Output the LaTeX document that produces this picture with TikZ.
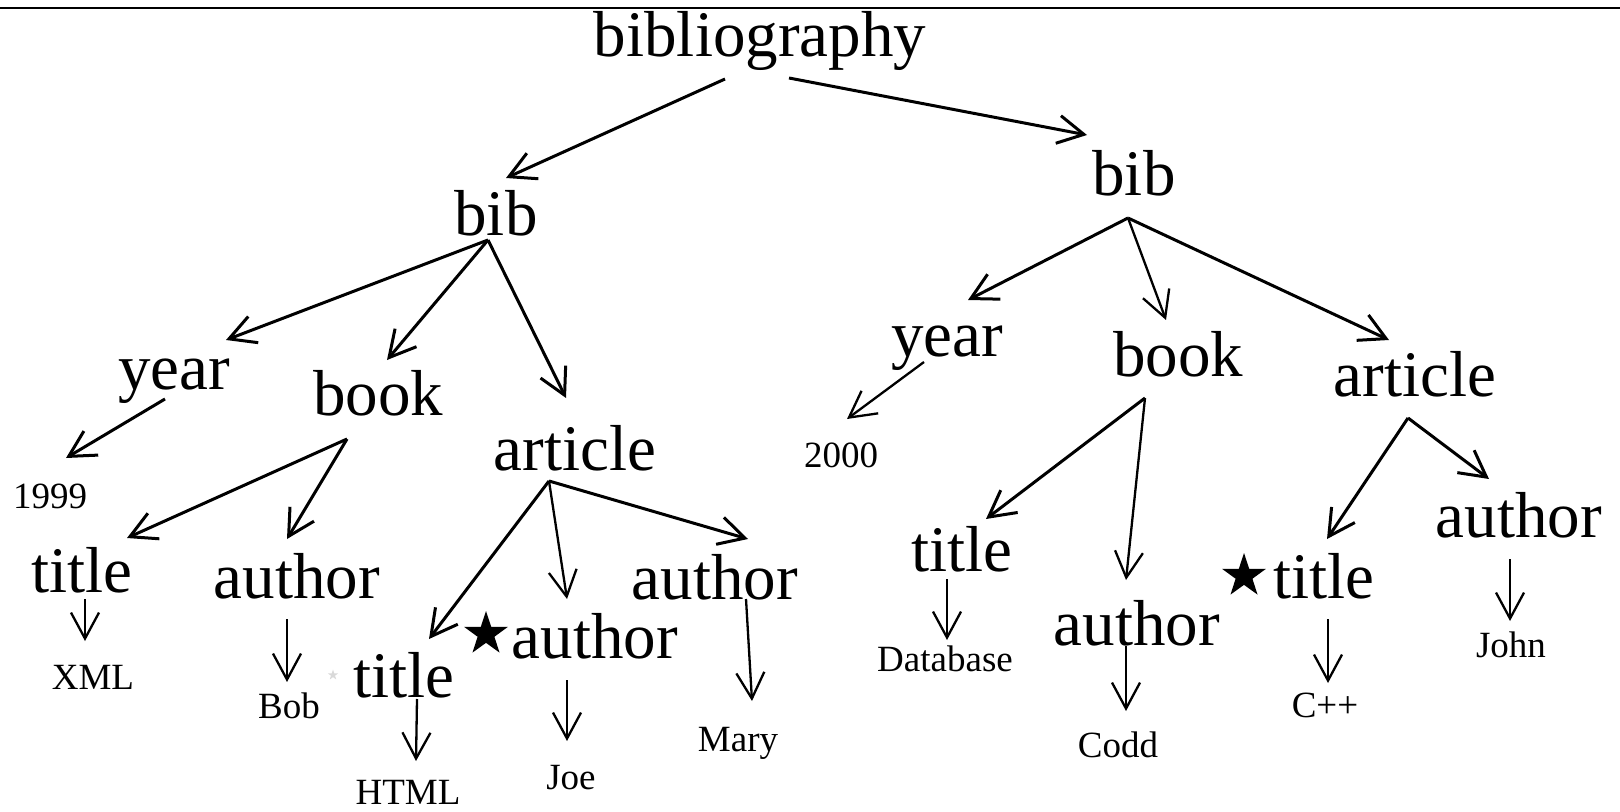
\documentclass[tikz,border=0pt]{standalone}
\usepackage{fontspec}
\setmainfont{Liberation Serif}
\usetikzlibrary{arrows.meta,shapes.geometric}
\begin{document}
\begin{tikzpicture}[x=0.5pt,y=-0.5pt,
  big/.style={font=\fontsize{32.5}{36}\selectfont, inner sep=0pt, anchor=base},
  small/.style={font=\fontsize{18.5}{21}\selectfont, inner sep=0pt, anchor=base},
  arr/.style={-{Straight Barb[length=13pt,width=14pt]}, line width=1.5pt},
  arrthin/.style={arr, line width=1.15pt},
  starnode/.style={star, star points=5, star point ratio=2.6, fill=black, draw=none, inner sep=0pt, minimum size=23pt}]
\useasboundingbox (0,0) rectangle (1620,812);
\draw[line width=0.8pt] (0,8) -- (1620,8);

% nodes
\node[big] (bibliography) at (760,57) {bibliography};
\node[big] (bibL) at (496,236) {bib};
\node[big] (bibR) at (1134,196) {bib};
\node[big] (yearL) at (174,389) {year};
\node[big] (bookL) at (378,415) {book};
\node[big] (articleL) at (575,470) {article};
\node[small] (n1999) at (50,508) {1999};
\node[big] (titleLa) at (82,592) {title};
\node[big] (authorLa) at (297,598) {author};
\node[small] (XML) at (93,689) {XML};
\node[small] (Bob) at (289,718) {Bob};
\node[star, star points=5, star point ratio=2.6, fill=gray!30, inner sep=0pt, minimum size=5.5pt] (graystar) at (333,675) {};
\node[big] (titleLb) at (404,697) {title};
\node[starnode] (starLb) at (486,634) {};
\node[big] (authorLb) at (595,658) {author};
\node[big] (authorLc) at (715,599) {author};
\node[small] (HTML) at (408,804) {HTML};
\node[small] (Joe) at (571,789) {Joe};
\node[small] (Mary) at (738,751) {Mary};
\node[big] (yearR) at (947,357) {year};
\node[big] (bookR) at (1178,376) {book};
\node[big] (articleR) at (1415,396) {article};
\node[small] (n2000) at (841,467) {2000};
\node[big] (titleRa) at (962,571) {title};
\node[big] (authorRa) at (1137,645) {author};
\node[small] (Database) at (945,671) {Database};
\node[small] (Codd) at (1118,757) {Codd};
\node[starnode] (starRb) at (1244,576) {};
\node[big] (titleRb) at (1324,598) {title};
\node[big] (authorRb) at (1519,537) {author};
\node[small] (Cpp) at (1325,717) {C++};
\node[small] (John) at (1511,657) {John};

% connectors
\draw[arr] ([shift={(-35,22)}]bibliography.base) -- ([shift={(10,-58)}]bibL.base);
\draw[arr] ([shift={(29,21)}]bibliography.base) -- ([shift={(-47,-61)}]bibR.base);
\draw[arr] ([shift={(-8,4)}]bibL.base) -- ([shift={(52,-49)}]yearL.base);
\draw[arr] ([shift={(-8,4)}]bibL.base) -- ([shift={(9,-55)}]bookL.base);
\draw[arr] ([shift={(-8,4)}]bibL.base) -- ([shift={(-9,-72)}]articleL.base);
\draw[arr] ([shift={(-9,10)}]yearL.base) -- ([shift={(16,-50)}]n1999.base);
\draw[arr] ([shift={(-31,24)}]bookL.base) -- ([shift={(45,-54)}]titleLa.base);
\draw[arr] ([shift={(-31,24)}]bookL.base) -- ([shift={(-10,-59)}]authorLa.base);
\draw[arr] ([shift={(-26,11)}]articleL.base) -- ([shift={(25,-58)}]titleLb.base);
\draw[arrthin] ([shift={(-26,11)}]articleL.base) -- ([shift={(-28,-59)}]authorLb.base);
\draw[arr] ([shift={(-26,11)}]articleL.base) -- ([shift={(33,-60)}]authorLc.base);
\draw[arrthin] ([shift={(3,7)}]titleLa.base) -- ([shift={(-8,-48)}]XML.base);
\draw[arrthin] ([shift={(-10,21)}]authorLa.base) -- ([shift={(-2,-36)}]Bob.base);
\draw[arrthin] ([shift={(13,2)}]titleLb.base) -- ([shift={(8,-43)}]HTML.base);
\draw[arrthin] ([shift={(-28,22)}]authorLb.base) -- ([shift={(-4,-48)}]Joe.base);
\draw[arrthin] ([shift={(31,0)}]authorLc.base) -- ([shift={(14,-50)}]Mary.base);
\draw[arr] ([shift={(-6,22)}]bibR.base) -- ([shift={(21,-57)}]yearR.base);
\draw[arrthin] ([shift={(-6,22)}]bibR.base) -- ([shift={(-12,-56)}]bookR.base);
\draw[arr] ([shift={(-6,22)}]bibR.base) -- ([shift={(-26,-56)}]articleR.base);
\draw[arrthin] ([shift={(-23,5)}]yearR.base) -- ([shift={(6,-48)}]n2000.base);
\draw[arr] ([shift={(-33,22)}]bookR.base) -- ([shift={(24,-52)}]titleRa.base);
\draw[arrthin] ([shift={(-33,22)}]bookR.base) -- ([shift={(-11,-65)}]authorRa.base);
\draw[arr] ([shift={(-7,22)}]articleR.base) -- ([shift={(3,-59)}]titleRb.base);
\draw[arr] ([shift={(-7,22)}]articleR.base) -- ([shift={(-30,-58)}]authorRb.base);
\draw[arrthin] ([shift={(-15,8)}]titleRa.base) -- ([shift={(2,-31)}]Database.base);
\draw[arrthin] ([shift={(-11,1)}]authorRa.base) -- ([shift={(8,-46)}]Codd.base);
\draw[arrthin] ([shift={(4,21)}]titleRb.base) -- ([shift={(3,-34)}]Cpp.base);
\draw[arrthin] ([shift={(-9,22)}]authorRb.base) -- ([shift={(-1,-36)}]John.base);
\end{tikzpicture}
\end{document}
